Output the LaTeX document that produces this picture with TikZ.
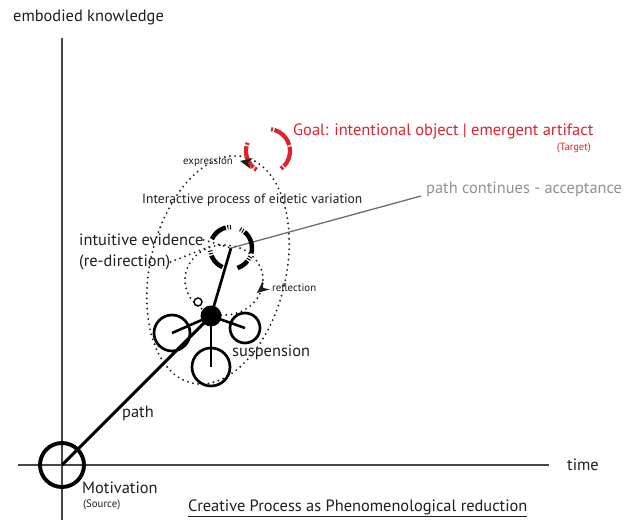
\documentclass[tikz,border=0pt]{standalone}
\usepackage{fontspec}
\setmainfont{PT Sans}
\usetikzlibrary{arrows.meta}
\definecolor{ink}{RGB}{30,30,30}
\definecolor{axisgrey}{RGB}{70,70,70}
\definecolor{goalred}{RGB}{222,35,45}
\definecolor{greytxt}{RGB}{145,145,145}
\begin{document}
\begin{tikzpicture}[x=1pt,y=1pt,
  lbl/.style={inner sep=0pt, anchor=west, text=ink, font=\fontsize{16.4}{19}\selectfont},
  smalllbl/.style={inner sep=0pt, anchor=west, text=ink, font=\fontsize{10.8}{12}\selectfont},
  axisline/.style={draw=axisgrey, line width=1.4pt},
  thickline/.style={draw=black, line width=2.9pt},
  ring/.style={circle, draw=black, line width=2.7pt, inner sep=0pt},
  dots/.style={draw=ink, line width=2.1pt, line cap=round, dash pattern=on 0pt off 5.2pt},
  dashring/.style={draw=black, line width=4.5pt},
  redarc/.style={draw=goalred, line width=4.2pt},
]
\useasboundingbox (0,0) rectangle (638,520);

% axes
\coordinate (ytop) at (62,482);
\coordinate (ybot) at (62,0);
\coordinate (xl) at (18,55);
\coordinate (xr) at (549,55);
\draw[axisline] (ybot) -- (ytop);
\draw[axisline] (xl) -- (xr);

% dotted loops
\draw[dots, rotate around={-13:(218,250)}] (218,250) ellipse[x radius=68, y radius=116];
\draw[dots] (224,240) ellipse[x radius=39, y radius=35];

% key points
\coordinate (dc) at (231,272);
\coordinate (dcw) at (211,274);
\coordinate (gend) at (421,324);
\coordinate (rc) at (268,369);

% nodes
\node[ring, line width=3.9pt, minimum size=44pt] (src) at (62,55) {};
\node[circle, fill=black, inner sep=0pt, minimum size=21pt] (hub) at (211,204) {};
\node[ring, minimum size=36pt] (sl) at (172,187) {};
\node[ring, minimum size=30pt] (sr) at (245,192) {};
\node[ring, minimum size=38pt] (sb) at (211,153) {};
\node[circle, draw=black, line width=1.4pt, inner sep=0pt, minimum size=8pt] (sm) at (198,218) {};

% connectors
\draw[thickline] (src.center) -- (hub.center);
\draw[thickline, line width=2.7pt] (hub.center) -- (dc);
\draw[thickline, line width=2.6pt] (hub.center) -- (sl.center);
\draw[thickline, line width=2.6pt] (hub.center) -- (sr.center);
\draw[thickline, line width=2.6pt] (hub.center) -- (sb.center);
\draw[draw=greytxt!75!black, line width=1.3pt] (dc) -- (gend);

% dashed ring (eidetic variation)
\draw[dashring, dash pattern=on 1pt off 1.6pt on 1pt off 1.6pt on 40pt off 40pt] (dc) ++(90:21) arc[start angle=90, end angle=155, radius=21];
\draw[dashring, dash pattern=on 1pt off 1.6pt on 1pt off 1.6pt on 40pt off 40pt] (dc) ++(64:21) arc[start angle=64, end angle=-15, radius=21];
\draw[dashring, dash pattern=on 1pt off 1.6pt on 1pt off 1.6pt on 40pt off 40pt] (dc) ++(-24:21) arc[start angle=-24, end angle=-72, radius=21];
\draw[dashring, dash pattern=on 1pt off 1.6pt on 1pt off 1.6pt on 40pt off 40pt] (dc) ++(187:21) arc[start angle=187, end angle=246, radius=21];

% red goal arcs
\draw[redarc, dash pattern=on 2pt off 1.5pt on 23.5pt off 1.5pt on 2.5pt off 20pt] (rc) ++(158:22) arc[start angle=158, end angle=240, radius=22];
\draw[redarc, dash pattern=on 2pt off 1.5pt on 22pt off 1.5pt on 21pt off 1.5pt on 2.5pt off 20pt] (rc) ++(82:22) arc[start angle=82, end angle=-55, radius=22];

% arrowheads on the dotted loops
\fill[ink, shift={(240,359)}, rotate=168] (0,0) -- (-12,5.5) -- (-8,0) -- (-12,-5.5) -- cycle;
\fill[ink, shift={(257,227)}, rotate=220] (0,0) -- (-12,5.5) -- (-8,0) -- (-12,-5.5) -- cycle;

% labels
\node[lbl] (ek) at (13,503) {embodied knowledge};
\node[lbl] (time) at (567,55) {time};
\node[lbl] (mot) at (82,32) {Motivation};
\node[smalllbl, font=\fontsize{10.8}{12}\selectfont] (srcl) at (83,15) {(Source)};
\node[lbl] (title) at (188,12) {\underline{Creative Process as Phenomenological reduction}};
\node[lbl] (pathl) at (122,107) {path};
\node[lbl] (susp) at (232,168) {suspension};
\node[smalllbl] (refl) at (272,232) {reflection};
\node[lbl] (ev) at (79,280) {intuitive evidence};
\node[lbl] (redir) at (79,258) {(re-direction)};
\node[lbl, font=\fontsize{13.5}{16}\selectfont] (iproc) at (142,320) {Interactive process of eidetic variation};
\node[smalllbl] (expr) at (183,358) {expression};
\node[lbl, text=goalred] (goal) at (293,389) {Goal: intentional object | emergent artifact};
\node[smalllbl, anchor=east, text=goalred, font=\fontsize{10.5}{12}\selectfont] (tgt) at (591,372) {(Target)};
\node[lbl, text=greytxt] (pc) at (426,331) {path continues - acceptance};

% dotted leaders from the evidence labels
\draw[dots] (ev.east) -- (dc);
\draw[dots] (redir.east) -- (dcw);
\end{tikzpicture}
\end{document}
